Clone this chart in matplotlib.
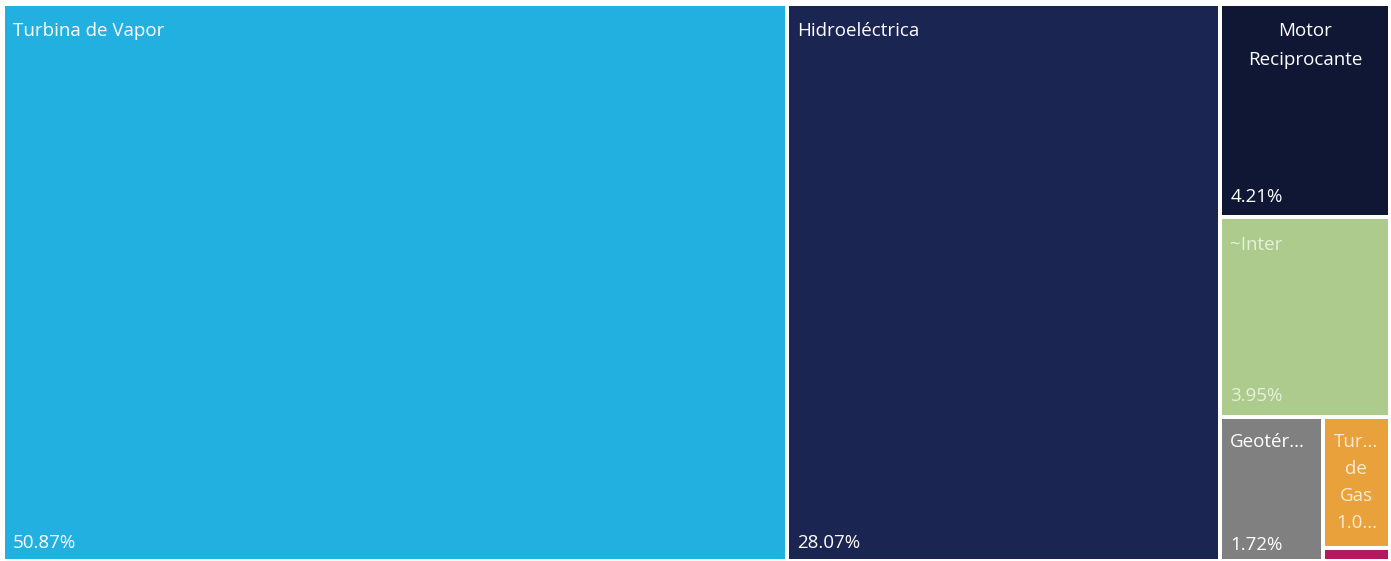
import matplotlib
matplotlib.use("Agg")
import matplotlib.pyplot as plt
from matplotlib.patches import Rectangle

# tipos de generación y su participación (%)
labels = ["Turbina de Vapor", "Hidroeléctrica", "Motor Reciprocante", "~Inter",
          "Geotérmica", "Turbina de Gas", "Otro"]
values = [50.87, 28.07, 4.21, 3.95, 1.72, 1.03, 0.10]
pct_text = ["50.87%", "28.07%", "4.21%", "3.95%", "1.72%", "1.0...", ""]
colors = ["#22B0E0", "#1B2552", "#0F1735", "#ACCB8C", "#808080", "#E9A23B", "#B3195C"]

W, H = 1391, 561
X0, Y0, X1, Y1 = 3, 4, 1390, 561


def worst(row, w):
    s = sum(row)
    return max(max(w * w * r / (s * s), (s * s) / (w * w * r)) for r in row)


def squarify(vals, x, y, dx, dy):
    # areas in pixel units
    total = sum(vals)
    areas = [v * dx * dy / total for v in vals]
    rects = []
    while areas:
        short = min(dx, dy)
        row = [areas[0]]
        i = 1
        while i < len(areas) and worst(row + [areas[i]], short) <= worst(row, short):
            row.append(areas[i])
            i += 1
        s = sum(row)
        if dx >= dy:
            w = s / dy
            yy = y
            for a in row:
                h = a / w
                rects.append((x, yy, w, h))
                yy += h
            x += w
            dx -= w
        else:
            h = s / dx
            xx = x
            for a in row:
                w = a / h
                rects.append((xx, y, w, h))
                xx += w
            y += h
            dy -= h
        areas = areas[i:]
    return rects


rects = squarify(values, X0, Y0, X1 - X0, Y1 - Y0)

fig = plt.figure(figsize=(W / 100, H / 100), dpi=100)
ax = fig.add_axes([0, 0, 1, 1])
ax.set_xlim(0, W)
ax.set_ylim(H, 0)
ax.axis("off")

gap = 2
font = "Open Sans"
fs = 13.5
for i, (x, y, w, h) in enumerate(rects):
    ax.add_patch(Rectangle((x + gap, y + gap), w - 2 * gap, h - 2 * gap,
                           facecolor=colors[i], edgecolor="none"))

txt = dict(color="white", fontsize=fs, family=font)
faint = dict(color="#E6F0DA", fontsize=fs, family=font)

# Turbina de Vapor, Hidroeléctrica
for i in [0, 1]:
    x, y, w, h = rects[i]
    ax.text(x + 10, y + 27, labels[i], va="center", ha="left", **txt)
    ax.text(x + 10, y + h - 18, pct_text[i], va="center", ha="left", **txt)

# Motor Reciprocante (wrapped)
x, y, w, h = rects[2]
ax.text(x + w / 2, y + 27, "Motor", va="center", ha="center", **txt)
ax.text(x + w / 2, y + 56, "Reciprocante", va="center", ha="center", **txt)
ax.text(x + 10, y + h - 20, pct_text[2], va="center", ha="left", **txt)

# ~Inter
x, y, w, h = rects[3]
ax.text(x + 10, y + 28, labels[3], va="center", ha="left", **faint)
ax.text(x + 10, y + h - 21, pct_text[3], va="center", ha="left", **faint)

# Geotérmica
x, y, w, h = rects[4]
ax.text(x + 10, y + 25, "Geotér...", va="center", ha="left", **txt)
ax.text(x + 10, y + h - 16, pct_text[4], va="center", ha="left", **txt)

# Turbina de Gas
x, y, w, h = rects[5]
for k, line in enumerate(["Tur...", "de", "Gas", pct_text[5]]):
    ax.text(x + w / 2, y + 25 + 27 * k, line, va="center", ha="center",
            color="#FBEBD2", fontsize=fs, family=font)

fig.savefig("out.png", dpi=100, facecolor="white")
